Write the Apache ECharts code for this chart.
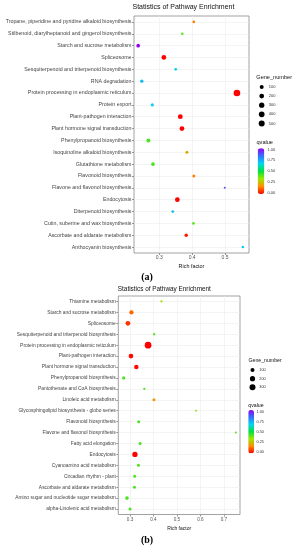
<!DOCTYPE html>
<html>
<head>
<meta charset="utf-8">
<script src="https://cdn.jsdelivr.net/npm/echarts@6/dist/echarts.min.js"></script>
<style>html,body{margin:0;padding:0;background:#fff}#c{width:298px;height:550px}</style>
</head>
<body>
<div id="c"></div>
<script>
// ---------- Panel (a) ----------
const catsA = [
  'Tropane, piperidine and pyridine alkaloid biosynthesis',
  'Stilbenoid, diarylheptanoid and gingerol biosynthesis',
  'Starch and sucrose metabolism',
  'Spliceosome',
  'Sesquiterpenoid and triterpenoid biosynthesis',
  'RNA degradation',
  'Protein processing in endoplasmic reticulum',
  'Protein export',
  'Plant-pathogen interaction',
  'Plant hormone signal transduction',
  'Phenylpropanoid biosynthesis',
  'Isoquinoline alkaloid biosynthesis',
  'Glutathione metabolism',
  'Flavonoid biosynthesis',
  'Flavone and flavonol biosynthesis',
  'Endocytosis',
  'Diterpenoid biosynthesis',
  'Cutin, suberine and wax biosynthesis',
  'Ascorbate and aldarate metabolism',
  'Anthocyanin biosynthesis'
];
const richA = [0.405,0.370,0.236,0.314,0.350,0.247,0.536,0.279,0.364,0.369,0.267,0.384,0.281,0.405,0.499,0.355,0.341,0.404,0.382,0.554];
const qA    = [0.15,0.40,1.00,0.00,0.68,0.72,0.00,0.68,0.00,0.00,0.42,0.22,0.42,0.15,0.88,0.00,0.70,0.40,0.03,0.68];
const geneA = [21,18,73,190,21,47,750,32,205,205,100,32,66,32,6,205,21,21,60,18];
const sizeBreaksA = [100,200,300,400,500];

// ---------- Panel (b) ----------
const catsB = [
  'Thiamine metabolism',
  'Starch and sucrose metabolism',
  'Spliceosome',
  'Sesquiterpenoid and triterpenoid biosynthesis',
  'Protein processing in endoplasmic reticulum',
  'Plant-pathogen interaction',
  'Plant hormone signal transduction',
  'Phenylpropanoid biosynthesis',
  'Pantothenate and CoA biosynthesis',
  'Linoleic acid metabolism',
  'Glycosphingolipid biosynthesis - globo series',
  'Flavonoid biosynthesis',
  'Flavone and flavonol biosynthesis',
  'Fatty acid elongation',
  'Endocytosis',
  'Cyanoamino acid metabolism',
  'Circadian rhythm - plant',
  'Ascorbate and aldarate metabolism',
  'Amino sugar and nucleotide sugar metabolism',
  'alpha-Linolenic acid metabolism'
];
const richB = [0.434,0.306,0.291,0.403,0.377,0.304,0.327,0.273,0.361,0.402,0.582,0.337,0.751,0.343,0.321,0.336,0.320,0.319,0.287,0.300];
const qB    = [0.32,0.12,0.06,0.42,0.00,0.01,0.01,0.42,0.42,0.20,0.35,0.42,0.42,0.42,0.00,0.42,0.42,0.42,0.42,0.42];
const geneB = [22,122,155,22,405,155,130,55,22,46,15,46,15,46,215,46,46,46,75,46];
const sizeBreaksB = [100,200,300];

const qTicks = [0,0.25,0.5,0.75,1];
const xTicksA = [0.3,0.4,0.5];
const xTicksB = [0.3,0.4,0.5,0.6,0.7];

const sizeA = n => 1.254 * Math.pow(n, 0.252);
const sizeB = n => 0.731 * Math.pow(n, 0.369);

const FONT = '"Liberation Sans", Arial, sans-serif';
const rainbow = ['#FF0000','#FF8C00','#9BE800','#00E040','#00D8F0','#3370FF','#9400F0'];

function xAxisCfg(gi, min, max, ticks, nameGap, fs, nfs) {
  return {
    type:'value', gridIndex:gi, min:min, max:max, interval:0.05,
    name:'Rich factor', nameLocation:'middle', nameGap:nameGap,
    nameTextStyle:{fontSize:nfs, color:'#111', fontFamily:FONT},
    axisLine:{show:false},
    axisTick:{show:true, length:2, customValues:ticks, lineStyle:{color:'#555', width:0.6}},
    axisLabel:{customValues:ticks, fontSize:fs, color:'#555', margin:2.5, fontFamily:FONT,
               formatter:v=>Number(v).toFixed(1)},
    splitLine:{show:true, lineStyle:{color:'#ececec', width:0.6}}
  };
}
function yAxisCfg(gi, cats, fs) {
  return {
    type:'category', gridIndex:gi, data:cats, inverse:true,
    axisLine:{show:false},
    axisTick:{show:true, alignWithLabel:true, length:2, interval:0, lineStyle:{color:'#555', width:0.6}},
    axisLabel:{fontSize:fs, color:'#444', margin:2.5, interval:0, fontFamily:FONT},
    splitLine:{show:true, alignWithLabel:true, interval:0, lineStyle:{color:'#ececec', width:0.6}}
  };
}

const graphic = [];
function txt(text, x, y, fs, color, extra) {
  graphic.push(Object.assign({type:'text', silent:true, style:{text:text, x:x, y:y, fontSize:fs, fontFamily:FONT,
    fill:color, verticalAlign:'middle', align:'left'}}, extra||{}));
}
// legend (a)
txt('Gene_number', 256.3, 77, 5.6, '#111');
sizeBreaksA.forEach((v,i)=>{
  const y = 87 + i*9.1;
  graphic.push({type:'circle', silent:true, shape:{cx:261.7, cy:y, r:sizeA(v)/2}, style:{fill:'#000'}});
  txt(String(v), 268.8, y, 4, '#333');
});
txt('qvalue', 256.5, 142.7, 5.6, '#111');
qTicks.forEach(v=>{
  txt(v.toFixed(2), 267.5, 192.7 - v*(192.7-149.6), 4, '#333');
});
// legend (b)
txt('Gene_number', 248.5, 360.8, 5.2, '#111');
sizeBreaksB.forEach((v,i)=>{
  const y = 370 + i*8.65;
  graphic.push({type:'circle', silent:true, shape:{cx:252.5, cy:y, r:sizeB(v)/2}, style:{fill:'#000'}});
  txt(String(v), 259.3, y, 3.8, '#333');
});
txt('qvalue', 248.3, 406, 5.2, '#111');
qTicks.forEach(v=>{
  txt(v.toFixed(2), 256.5, 452 - v*(452-411.5), 3.8, '#333');
});
// panel labels
graphic.push({type:'text', silent:true, style:{text:'(a)', x:147, y:277.5, fontSize:10, fontWeight:'bold',
  fontFamily:'"Liberation Serif","Times New Roman",serif', fill:'#000', align:'center', verticalAlign:'middle'}});
graphic.push({type:'text', silent:true, style:{text:'(b)', x:147, y:540.5, fontSize:10, fontWeight:'bold',
  fontFamily:'"Liberation Serif","Times New Roman",serif', fill:'#000', align:'center', verticalAlign:'middle'}});

const option = {
  animation:false,
  backgroundColor:'#fff',
  textStyle:{fontFamily:FONT},
  title:[
    {text:'Statistics of Pathway Enrichment', left:132.5, top:4.0, padding:0,
     textStyle:{fontSize:7.0, fontWeight:'normal', color:'#111', fontFamily:FONT}},
    {text:'Statistics of Pathway Enrichment', left:117.8, top:286.4, padding:0,
     textStyle:{fontSize:6.4, fontWeight:'normal', color:'#111', fontFamily:FONT}}
  ],
  grid:[
    {left:134, top:16, width:115, height:237, show:true, borderColor:'#8a8a8a', borderWidth:0.8, backgroundColor:'#fff', containLabel:false},
    {left:118.3, top:296, width:121.7, height:218.5, show:true, borderColor:'#8a8a8a', borderWidth:0.8, backgroundColor:'#fff', containLabel:false}
  ],
  xAxis:[
    xAxisCfg(0, 0.2233, 0.5727, xTicksA, 11.5, 5.0, 5.4),
    xAxisCfg(1, 0.25, 0.769, xTicksB, 11.2, 4.6, 5.0)
  ],
  yAxis:[ yAxisCfg(0, catsA, 5.3), yAxisCfg(1, catsB, 4.9) ],
  visualMap:[
    {type:'continuous', seriesIndex:0, dimension:2, min:0, max:1, calculable:false, padding:0,
     left:257.7, top:148.3, itemWidth:6.6, itemHeight:45.7, text:null, inRange:{color:rainbow}, hoverLink:false},
    {type:'continuous', seriesIndex:1, dimension:2, min:0, max:1, calculable:false, padding:0,
     left:248.3, top:410, itemWidth:5.7, itemHeight:43.3, text:null, inRange:{color:rainbow}, hoverLink:false}
  ],
  series:[
    {type:'scatter', xAxisIndex:0, yAxisIndex:0,
     data:catsA.map((c,i)=>[richA[i], c, qA[i], geneA[i]]),
     symbolSize:d=>sizeA(d[3]), itemStyle:{opacity:1}},
    {type:'scatter', xAxisIndex:1, yAxisIndex:1,
     data:catsB.map((c,i)=>[richB[i], c, qB[i], geneB[i]]),
     symbolSize:d=>sizeB(d[3]), itemStyle:{opacity:1}}
  ],
  graphic:graphic
};
const chart = echarts.init(document.getElementById('c'), null, {renderer:'canvas'});
chart.setOption(option);
</script>
</body>
</html>
